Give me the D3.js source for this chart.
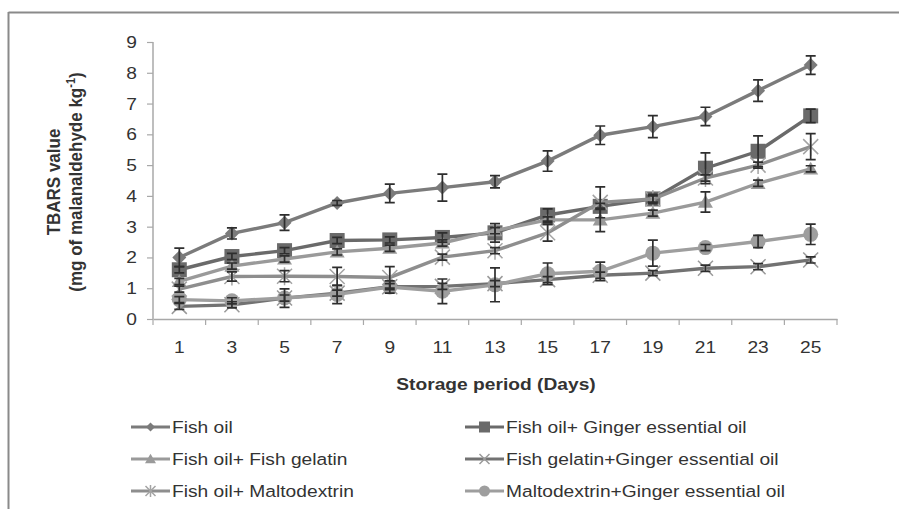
<!DOCTYPE html>
<html><head><meta charset="utf-8">
<script src="https://cdn.jsdelivr.net/npm/d3@7"></script>
<style>
html,body{margin:0;padding:0;background:#fff;}
svg{display:block;font-family:"Liberation Sans",Arial,sans-serif;}
</style></head>
<body>
<svg id="c" width="899" height="509"></svg>
<script>
const days = [1,3,5,7,9,11,13,15,17,19,21,23,25];
const yTicks = [0,1,2,3,4,5,6,7,8,9];
const seriesNames = ["Fish oil","Fish oil+ Ginger essential oil","Fish oil+ Fish gelatin","Fish gelatin+Ginger essential oil","Fish oil+ Maltodextrin","Maltodextrin+Ginger essential oil"];
const fishOil = [2.0, 2.78, 3.13, 3.77, 4.08, 4.27, 4.46, 5.13, 5.97, 6.25, 6.58, 7.42, 8.25];
const fishOilErr = [0.3, 0.18, 0.25, 0.08, 0.3, 0.44, 0.2, 0.33, 0.3, 0.36, 0.3, 0.35, 0.3];
const fishOilGinger = [1.6, 2.03, 2.22, 2.55, 2.57, 2.65, 2.8, 3.38, 3.66, 3.9, 4.9, 5.45, 6.6];
const fishOilGingerErr = [0.1, 0.1, 0.1, 0.1, 0.1, 0.15, 0.3, 0.2, 0.1, 0.15, 0.5, 0.5, 0.22];
const fishGelatin = [1.22, 1.72, 1.95, 2.18, 2.3, 2.47, 2.87, 3.22, 3.22, 3.44, 3.8, 4.41, 4.88];
const fishGelatinErr = [0.1, 0.1, 0.1, 0.1, 0.1, 0.1, 0.1, 0.1, 0.38, 0.1, 0.33, 0.1, 0.1];
const fishGelatinGinger = [0.41, 0.46, 0.68, 0.84, 1.05, 1.06, 1.15, 1.28, 1.42, 1.49, 1.65, 1.7, 1.92];
const fishGelatinGingerErr = [0.1, 0.1, 0.1, 0.1, 0.1, 0.1, 0.1, 0.1, 0.1, 0.08, 0.1, 0.1, 0.1];
const maltodextrin = [0.97, 1.38, 1.39, 1.38, 1.35, 2.01, 2.22, 2.8, 3.79, 3.9, 4.58, 5.0, 5.6];
const maltodextrinErr = [0.1, 0.15, 0.18, 0.3, 0.35, 0.1, 0.1, 0.27, 0.5, 0.1, 0.1, 0.1, 0.42];
const maltoGinger = [0.63, 0.59, 0.68, 0.8, 1.04, 0.9, 1.11, 1.47, 1.55, 2.14, 2.32, 2.52, 2.75];
const maltoGingerErr = [0.1, 0.1, 0.3, 0.3, 0.2, 0.4, 0.55, 0.35, 0.3, 0.42, 0.1, 0.2, 0.33];

const series = [
  {name: seriesNames[0], v: fishOil, e: fishOilErr, color: "#7b7b7b", marker: "diamond"},
  {name: seriesNames[1], v: fishOilGinger, e: fishOilGingerErr, color: "#6a6a6a", marker: "square"},
  {name: seriesNames[2], v: fishGelatin, e: fishGelatinErr, color: "#9a9a9a", marker: "triangle"},
  {name: seriesNames[3], v: fishGelatinGinger, e: fishGelatinGingerErr, color: "#727272", marker: "cross", mcolor: "#9a9a9a"},
  {name: seriesNames[4], v: maltodextrin, e: maltodextrinErr, color: "#8e8e8e", marker: "star", mcolor: "#a4a4a4"},
  {name: seriesNames[5], v: maltoGinger, e: maltoGingerErr, color: "#9e9e9e", marker: "circle"}
];
const SX = 1.13; // horizontal stretch of the text

const svg = d3.select("#c");
// frame
svg.append("line").attr("x1",8.5).attr("x2",899).attr("y1",12.5).attr("y2",12.5).attr("stroke","#8a8a8a").attr("stroke-width",2);
svg.append("line").attr("x1",8.5).attr("x2",8.5).attr("y1",12).attr("y2",509).attr("stroke","#8a8a8a").attr("stroke-width",2);

const x = d3.scaleBand().domain(days).range([153, 837]).padding(0);
const cx = d => x(d) + x.bandwidth()/2;
const y = d3.scaleLinear().domain([0, 9]).range([319, 42]);

// y axis
const yAxis = svg.append("g").attr("transform","translate(153,0)")
  .call(d3.axisLeft(y).tickValues(yTicks).tickSize(6).tickPadding(10).tickFormat(d3.format("d")));
yAxis.select(".domain").attr("stroke","#a8a8a8").attr("stroke-width",1.5).attr("d","M0,"+y(9)+"V"+y(0));
yAxis.selectAll(".tick line").attr("stroke","#a8a8a8").attr("stroke-width",1.2);
yAxis.selectAll(".tick text").attr("fill","#333").style("font-size","17px")
  .attr("x", -16/SX).attr("transform", `scale(${SX},1)`);

// x axis
const xAxis = svg.append("g").attr("transform","translate(0,319)")
  .call(d3.axisBottom(x).tickSize(0).tickPadding(22));
xAxis.select(".domain").attr("stroke","#a8a8a8").attr("stroke-width",1.5);
xAxis.selectAll(".tick text").attr("fill","#333").style("font-size","17px").attr("transform", `scale(${SX},1)`);
const bounds = days.map(d => x(d)).concat([x.range()[1]]);
xAxis.selectAll(".btick").data(bounds).enter().append("line")
  .attr("x1",d=>d).attr("x2",d=>d).attr("y1",0).attr("y2",6)
  .attr("stroke","#a8a8a8").attr("stroke-width",1.2);

// axis titles
svg.append("text").attr("transform",`translate(496,390) scale(${SX},1)`).attr("text-anchor","middle")
  .attr("fill","#333").style("font-size","17px").style("font-weight","bold").text("Storage period (Days)");
const yt = svg.append("text").attr("transform",`translate(0,182) scale(${SX},1) rotate(-90)`).attr("text-anchor","middle")
  .attr("fill","#333").style("font-size","17px").style("font-weight","bold");
yt.append("tspan").attr("x",0).attr("y",53.5/SX + 6).text("TBARS value");
const l2 = yt.append("tspan").attr("x",0).attr("y",75/SX + 6);
l2.append("tspan").text("(mg of malanaldehyde kg");
l2.append("tspan").attr("dy",-6).style("font-size","11px").text("-1");
l2.append("tspan").attr("dy",6).text(")");

function drawMarker(g, type, color, s) {
  const h = s/2;
  if (type === "diamond") {
    g.append("path").attr("d", `M0,${-h}L${h},0L0,${h}L${-h},0Z`).attr("fill", color);
  } else if (type === "square") {
    g.append("rect").attr("x",-h).attr("y",-h).attr("width",s).attr("height",s).attr("fill", color);
  } else if (type === "triangle") {
    g.append("path").attr("d", `M0,${-h*0.95}L${h},${h*0.75}L${-h},${h*0.75}Z`).attr("fill", color);
  } else if (type === "circle") {
    g.append("circle").attr("r", h).attr("fill", color);
  } else if (type === "cross") {
    g.append("path").attr("d",`M${-h},${-h}L${h},${h}M${-h},${h}L${h},${-h}`).attr("stroke",color).attr("stroke-width",1.5).attr("fill","none");
  } else if (type === "star") {
    g.append("path").attr("d",`M${-h},${-h}L${h},${h}M${-h},${h}L${h},${-h}M0,${-h*1.2}L0,${h*1.2}`).attr("stroke",color).attr("stroke-width",1.5).attr("fill","none");
  }
}
const mSize = {diamond: 14, square: 15, triangle: 15, circle: 15, cross: 15, star: 15};
const lSize = {diamond: 9, square: 11, triangle: 11, circle: 11, cross: 10, star: 10};

const line = d3.line().x((d,i)=>cx(days[i])).y(d=>y(d));
const plot = svg.append("g");
series.forEach(s => {
  const g = plot.append("g");
  g.append("path").datum(s.v).attr("d", line).attr("fill","none").attr("stroke", s.color).attr("stroke-width",3.4);
  s.v.forEach((v,i) => {
    const m = g.append("g").attr("transform",`translate(${cx(days[i])},${y(v)})`);
    drawMarker(m, s.marker, s.mcolor || s.color, mSize[s.marker]);
  });
});
// error bars on top
series.forEach(s => {
  const g = plot.append("g");
  s.v.forEach((v,i) => {
    const e = s.e[i];
    const xx = cx(days[i]);
    g.append("path").attr("d",`M${xx},${y(v+e)}V${y(v-e)}M${xx-5},${y(v+e)}H${xx+5}M${xx-5},${y(v-e)}H${xx+5}`)
      .attr("stroke","#2e2e2e").attr("stroke-width",1.7).attr("fill","none");
  });
});

// legend
const legPos = [[131,427],[465,427],[131,459],[465,459],[131,491],[465,491]];
series.forEach((s,i) => {
  const [lx, ly] = legPos[i];
  const g = svg.append("g").attr("transform",`translate(${lx},${ly})`);
  g.append("line").attr("x1",0).attr("x2",39).attr("stroke",s.color).attr("stroke-width",3);
  const m = g.append("g").attr("transform","translate(19.5,0)");
  drawMarker(m, s.marker, s.mcolor || s.color, lSize[s.marker]);
  g.append("text").attr("transform",`translate(41,6) scale(${SX},1)`).attr("fill","#333").style("font-size","17px").text(s.name);
});
</script>
</body></html>
